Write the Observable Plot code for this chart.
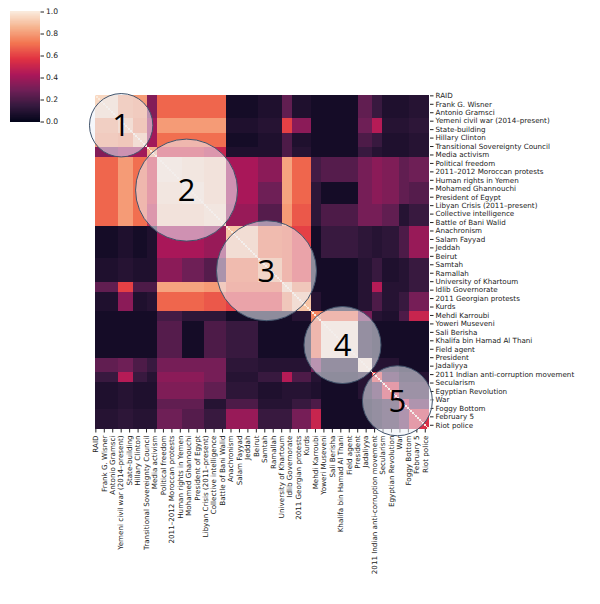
<!DOCTYPE html>
<html>
<head>
<meta charset="utf-8">
<script src="https://cdn.jsdelivr.net/npm/d3@7"></script>
<script src="https://cdn.jsdelivr.net/npm/@observablehq/plot@0.6"></script>
<style>
  html, body { margin: 0; padding: 0; background: #fff; }
  #wrap { position: relative; width: 600px; height: 604px; overflow: hidden; }
  #main { position: absolute; left: 0; top: 0; }
  #cbar { position: absolute; left: 0; top: 0; }
</style>
</head>
<body>
<div id="wrap"><div id="main"></div><div id="cbar"></div></div>
<script>
// ---- data ----
const labels = ["RAID", "Frank G. Wisner", "Antonio Gramsci", "Yemeni civil war (2014–present)", "State-building", "Hillary Clinton", "Transitional Sovereignty Council", "Media activism", "Political freedom", "2011–2012 Moroccan protests", "Human rights in Yemen", "Mohamed Ghannouchi", "President of Egypt", "Libyan Crisis (2011–present)", "Collective intelligence", "Battle of Bani Walid", "Anachronism", "Salam Fayyad", "Jeddah", "Beirut", "Samtah", "Ramallah", "University of Khartoum", "Idlib Governorate", "2011 Georgian protests", "Kurds", "Mehdi Karroubi", "Yoweri Museveni", "Sali Berisha", "Khalifa bin Hamad Al Thani", "Field agent", "President", "Jadaliyya", "2011 Indian anti-corruption movement", "Secularism", "Egyptian Revolution", "War", "Foggy Bottom", "February 5", "Riot police"];
const nRows = 198;          // rows of the matrix
const labelEvery = 5;       // every 5th row is labelled
// segment boundaries (row index) of the clustered blocks
const segBounds = [0, 14, 23, 31, 37, 52, 65, 78, 97, 111, 117, 128, 134, 156, 164, 170, 180, 186, 198];
// upper triangle of block values (row i, columns i..end)
const segUpper = [
  [0.95, 0.82, 0.80, 0.33, 0.68, 0.68, 0.68, 0.05, 0.08, 0.25, 0.08, 0.05, 0.05, 0.25, 0.15, 0.08, 0.08, 0.10],
  [0.90, 0.78, 0.40, 0.80, 0.80, 0.80, 0.08, 0.10, 0.60, 0.35, 0.05, 0.05, 0.28, 0.45, 0.10, 0.10, 0.12],
  [0.90, 0.40, 0.70, 0.70, 0.70, 0.05, 0.08, 0.20, 0.08, 0.05, 0.05, 0.20, 0.15, 0.08, 0.08, 0.10],
  [0.85, 0.55, 0.55, 0.50, 0.08, 0.08, 0.20, 0.10, 0.05, 0.05, 0.15, 0.10, 0.08, 0.08, 0.10],
  [0.97, 0.95, 0.93, 0.42, 0.35, 0.82, 0.68, 0.18, 0.22, 0.30, 0.35, 0.32, 0.25, 0.28],
  [0.97, 0.93, 0.42, 0.28, 0.82, 0.68, 0.12, 0.05, 0.30, 0.35, 0.32, 0.25, 0.22],
  [0.95, 0.38, 0.22, 0.80, 0.65, 0.12, 0.20, 0.30, 0.30, 0.25, 0.10, 0.15],
  [0.90, 0.72, 0.70, 0.60, 0.05, 0.15, 0.12, 0.10, 0.12, 0.20, 0.38],
  [0.85, 0.70, 0.60, 0.05, 0.05, 0.10, 0.15, 0.08, 0.10, 0.15],
  [0.92, 0.78, 0.05, 0.05, 0.10, 0.45, 0.10, 0.10, 0.15],
  [0.90, 0.10, 0.05, 0.10, 0.20, 0.10, 0.15, 0.30],
  [0.75, 0.70, 0.30, 0.10, 0.08, 0.20, 0.50],
  [0.97, 0.10, 0.05, 0.05, 0.05, 0.05],
  [0.97, 0.10, 0.10, 0.05, 0.05],
  [0.60, 0.20, 0.10, 0.10],
  [0.55, 0.15, 0.15],
  [0.50, 0.25],
  [0.55]
];
// highlighted clusters: centre (row units), radius (px)
const circleLabels = ["1", "2", "3", "4", "5"];
const circleX = [15.5, 54.2, 101.5, 146.5, 179];
const circleY = [17.9, 56.3, 104, 148, 181];
const circleR = [31.7, 51, 50, 38.5, 35];
const cbarTicks = [0, 0.2, 0.4, 0.6, 0.8, 1.0];

// ---- colour map (rocket) ----
const rocketDomain = [0, 1/7, 2/7, 3/7, 4/7, 5/7, 6/7, 1];
const rocketRange = ["#03051a", "#35193e", "#701f57", "#ad1759", "#e13342", "#f37651", "#f6b48f", "#faebdd"];

// ---- build tables ----
const nSeg = segBounds.length - 1;
const val = (i, j) => i <= j ? segUpper[i][j - i] : segUpper[j][i - j];
const blocks = [];
for (let i = 0; i < nSeg; i++) for (let j = 0; j < nSeg; j++) {
  blocks.push({x1: segBounds[j], x2: segBounds[j + 1], y1: segBounds[i], y2: segBounds[i + 1], v: val(i, j)});
}
const diag = d3.range(nRows).map(r => ({x1: r, x2: r + 1, y1: r, y2: r + 1, v: 1}));
const tickVals = labels.map((_, i) => i * labelEvery + 0.5);
const tickFmt = d => labels[Math.round((d - 0.5) / labelEvery)];
const circles = circleLabels.map((t, i) => ({t, x: circleX[i], y: circleY[i], r: circleR[i]}));

const colorScale = {type: "linear", domain: rocketDomain, range: rocketRange, interpolate: "rgb", clamp: true};

const main = Plot.plot({
  width: 600, height: 604,
  marginLeft: 94.5, marginRight: 171, marginTop: 94.5, marginBottom: 175,
  style: {fontFamily: "DejaVu Sans", fontSize: "7.15px", color: "#222", background: "white"},
  x: {domain: [0, nRows], ticks: tickVals, tickFormat: tickFmt, tickRotate: -90, tickSize: 3.5, tickPadding: 2.5, label: null, axis: "bottom"},
  y: {domain: [0, nRows], reverse: true, ticks: tickVals, tickFormat: tickFmt, tickSize: 3.5, tickPadding: 2.5, label: null, axis: "right"},
  color: colorScale,
  r: {type: "identity"},
  marks: [
    Plot.rect(blocks, {x1: "x1", x2: "x2", y1: "y1", y2: "y2", fill: "v", shapeRendering: "crispEdges"}),
    Plot.rect(diag, {x1: "x1", x2: "x2", y1: "y1", y2: "y2", fill: "v", shapeRendering: "crispEdges"}),
    Plot.dot(circles, {x: "x", y: "y", r: "r", fill: "#eef0f8", fillOpacity: 0.56, stroke: "#41536b", strokeWidth: 1}),
    Plot.text(circles, {x: "x", y: "y", text: "t", fontSize: 31, fill: "black", fontFamily: "Open Sans", dy: 1})
  ]
});
document.getElementById("main").appendChild(main);

const stops = d3.range(0, 1, 0.005).map(s => ({y1: s, y2: s + 0.006, v: s + 0.0025}));
const cbar = Plot.plot({
  width: 70, height: 135,
  marginLeft: 9.5, marginRight: 30.5, marginTop: 11.5, marginBottom: 13.5,
  style: {fontFamily: "DejaVu Sans", fontSize: "7.6px", color: "#222", background: "transparent"},
  x: {domain: [0, 1], axis: null},
  y: {domain: [0, 1], ticks: cbarTicks, tickFormat: d3.format(".1f"), tickSize: 3.5, tickPadding: 2.5, label: null, axis: "right"},
  color: colorScale,
  marks: [
    Plot.rect(stops, {x1: 0, x2: 1, y1: "y1", y2: "y2", fill: "v", shapeRendering: "crispEdges"})
  ]
});
document.getElementById("cbar").appendChild(cbar);
</script>
</body>
</html>
